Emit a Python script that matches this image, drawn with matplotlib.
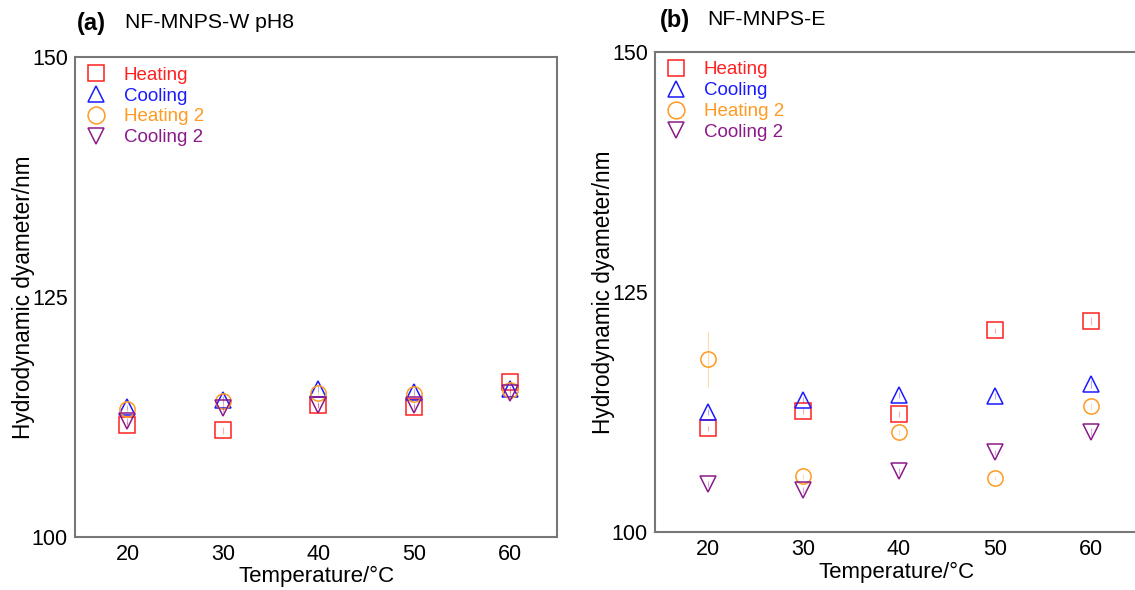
import numpy as np
import matplotlib
matplotlib.use("Agg")
import matplotlib.pyplot as plt

plt.rcParams['font.family'] = ['Liberation Sans', 'DejaVu Sans']

temps = [20, 30, 40, 50, 60]
series_names = ["Heating", "Cooling", "Heating 2", "Cooling 2"]

# NF-MNPS-W pH8
w_heat = [111.7, 111.1, 113.7, 113.5, 116.1]
w_cool = [113.5, 114.3, 115.4, 115.1, 115.4]
w_heat2 = [113.3, 114.2, 115.0, 114.9, 115.3]
w_cool2 = [112.1, 113.4, 113.8, 113.7, 115.0]
w_err = [0.3, 0.4, 0.3, 0.3, 0.3]

# NF-MNPS-E
e_heat = [110.8, 112.6, 112.3, 121.0, 122.0]
e_cool = [112.5, 113.75, 114.3, 114.2, 115.4]
e_heat2 = [118.0, 105.8, 110.4, 105.6, 113.1]
e_cool2 = [105.0, 104.4, 106.35, 108.3, 110.4]
e_err_heat2 = [2.9, 0.3, 0.3, 0.2, 0.4]
e_err = [0.3, 0.3, 0.3, 0.3, 0.4]

colors = ['#ff2020', '#1a1aff', '#ff9a22', '#8a1a8a']
markers = ['s', '^', 'o', 'v']

fig = plt.figure(figsize=(11.35, 5.9), dpi=100)
ax1 = fig.add_axes([0.066, 0.090, 0.425, 0.813])
ax2 = fig.add_axes([0.577, 0.098, 0.426, 0.814])


def draw(ax, data, errs):
    handles = []
    for vals, err, c, m, name in zip(data, errs, colors, markers, series_names):
        ax.errorbar(temps, vals, yerr=err, fmt='none', ecolor=c, elinewidth=0.8, alpha=0.35)
        h, = ax.plot(temps, vals, linestyle='none', marker=m, markersize=11,
                     markerfacecolor='none', markeredgecolor=c, markeredgewidth=1.1,
                     label=name)
        handles.append(h)
    ax.set_xlim(14.5, 65)
    ax.set_ylim(100, 150)
    ax.set_xticks(temps)
    ax.set_yticks([100, 125, 150])
    ax.tick_params(length=0, labelsize=15.5, pad=5)
    for s in ax.spines.values():
        s.set_color('#777777')
        s.set_linewidth(1.5)
    ax.set_xlabel("Temperature/°C", fontsize=16, labelpad=1)
    ax.set_ylabel("Hydrodynamic dyameter/nm", fontsize=16.3, labelpad=-2)
    leg = ax.legend(handles=handles, loc='upper left', frameon=False, fontsize=13.5,
                    handletextpad=0.8, labelspacing=0.2, borderaxespad=0.1,
                    handlelength=1.3, markerscale=1.1, bbox_to_anchor=(0.0, 1.0))
    for t, c in zip(leg.get_texts(), colors):
        t.set_color(c)


draw(ax1, [w_heat, w_cool, w_heat2, w_cool2], [w_err, w_err, w_err, w_err])
draw(ax2, [e_heat, e_cool, e_heat2, e_cool2], [e_err, e_err, e_err_heat2, e_err])

fig.text(0.068, 0.960, "(a)", fontsize=17, fontweight='bold', va='center')
fig.text(0.110, 0.962, "NF-MNPS-W pH8", fontsize=15.3, va='center')
fig.text(0.581, 0.965, "(b)", fontsize=17, fontweight='bold', va='center')
fig.text(0.623, 0.967, "NF-MNPS-E", fontsize=15.3, va='center')

fig.savefig("out.png", dpi=100)
